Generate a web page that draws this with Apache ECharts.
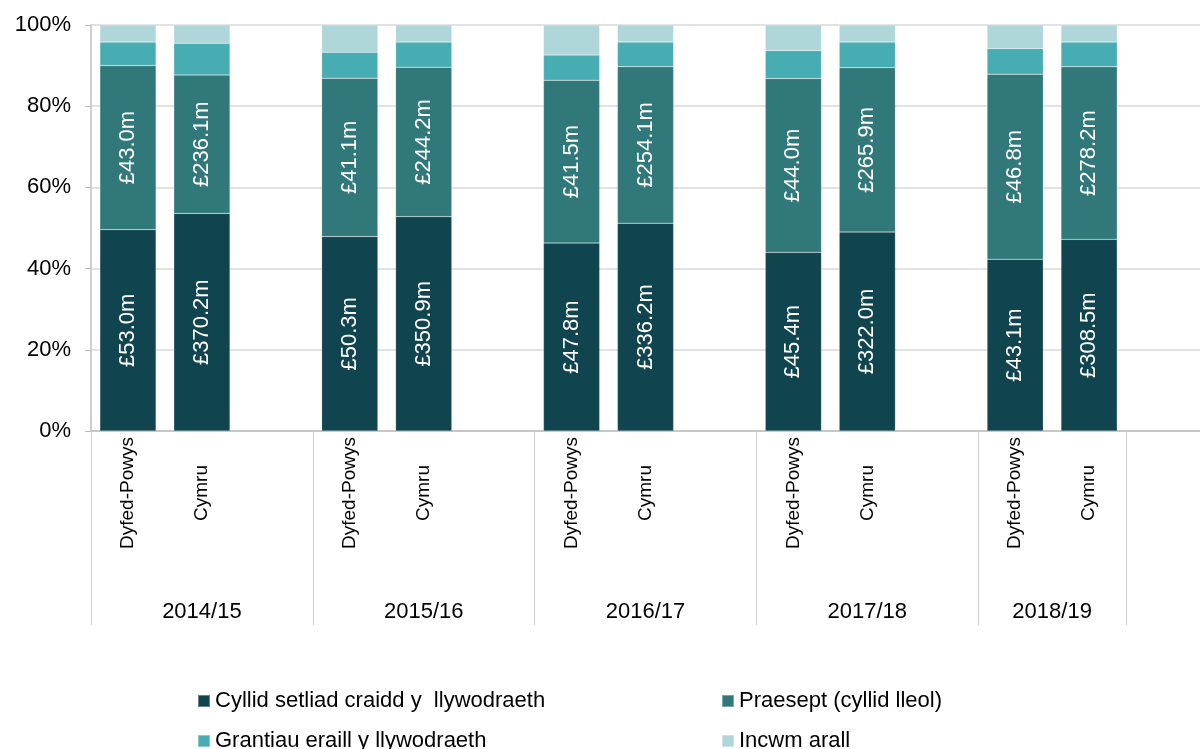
<!DOCTYPE html>
<html>
<head>
<meta charset="utf-8">
<script src="https://cdn.jsdelivr.net/npm/echarts@6/dist/echarts.min.js"></script>
<style>
  html, body, #main { margin: 0; padding: 0; width: 1200px; height: 749px; background: #fff; overflow: hidden; }
</style>
</head>
<body>
<div id="main"></div>
<script>
// years and the bars inside each year group
var years = ["2014/15", "2015/16", "2016/17", "2017/18", "2018/19"];
var areas = ["Dyfed-Powys", "Cymru"];
// slots per year group (two bars + blank gap; last group has no gap)
var groupSizes = [3, 3, 3, 3, 2];

// series names
var seriesNames = [
  "Cyllid setliad craidd y  llywodraeth",
  "Praesept (cyllid lleol)",
  "Grantiau eraill y llywodraeth",
  "Incwm arall"
];

// share of total income (%) per bar, order: DP 14/15, Cymru 14/15, DP 15/16 ...
var coreShare    = [49.6, 53.6, 47.9, 52.8, 46.3, 51.2, 44.0, 49.0, 42.3, 47.2];
var preceptShare = [40.4, 34.1, 39.0, 36.8, 40.1, 38.5, 42.8, 40.5, 45.6, 42.5];
var grantShare   = [5.8, 7.8, 6.4, 6.2, 6.2, 6.1, 6.9, 6.3, 6.3, 6.1];
var otherShare   = [4.2, 4.5, 6.7, 4.2, 7.4, 4.2, 6.3, 4.2, 5.8, 4.2];

// £m amounts shown as labels
var coreAmount    = [53.0, 370.2, 50.3, 350.9, 47.8, 336.2, 45.4, 322.0, 43.1, 308.5];
var preceptAmount = [43.0, 236.1, 41.1, 244.2, 41.5, 254.1, 44.0, 265.9, 46.8, 278.2];

var yTicks = [0, 20, 40, 60, 80, 100];

var colors = ["#104550", "#31787a", "#48adb2", "#afd6d9"];
var FONT = "Liberation Sans";

// category slots: each year = Dyfed-Powys, Cymru, blank
var slots = [];
years.forEach(function () {
  slots.push(areas[0], areas[1], "");
});

// spread per-bar values over the slots (blank slot -> "-")
function toSlots(arr) {
  var out = [];
  for (var i = 0; i < years.length; i++) {
    out.push(arr[i * 2], arr[i * 2 + 1], "-");
  }
  return out;
}

// group boundaries and centers for the year axis
var bounds = [0];
groupSizes.forEach(function (n) { bounds.push(bounds[bounds.length - 1] + n); });
var centers = [];
for (var g = 0; g < groupSizes.length; g++) centers.push((bounds[g] + bounds[g + 1]) / 2);

function fmt(v) { return "£" + v.toFixed(1) + "m"; }

var myChart = echarts.init(document.getElementById("main"));

var labelStyle = function (amounts) {
  return {
    show: true,
    position: "inside",
    rotate: 90,
    color: "#fff",
    fontFamily: FONT,
    fontSize: 22,
    formatter: function (p) {
      var bar = Math.floor(p.dataIndex / 3) * 2 + (p.dataIndex % 3);
      return fmt(amounts[bar]);
    }
  };
};

var shares = [coreShare, preceptShare, grantShare, otherShare];
var series = shares.map(function (arr, i) {
  var s = {
    name: seriesNames[i],
    type: "bar",
    stack: "total",
    barCategoryGap: "24%",
    xAxisIndex: 0,
    data: toSlots(arr),
    itemStyle: { color: colors[i], borderColor: "rgba(255,255,255,0.35)", borderWidth: 0.5 },
    emphasis: { disabled: true }
  };
  if (i === 0) s.label = labelStyle(coreAmount);
  if (i === 1) s.label = labelStyle(preceptAmount);
  return s;
});

var legendBase = {
  orient: "vertical",
  top: 690,
  height: 80,
  padding: 0,
  itemWidth: 12,
  itemHeight: 12,
  itemGap: 18,
  icon: "rect",
  textStyle: { fontSize: 22, color: "#000", fontFamily: FONT }
};

var option = {
  animation: false,
  color: colors,
  textStyle: { fontFamily: FONT },
  grid: { left: 91, top: 25, width: slots.length * 74.6, height: 406 },
  legend: [
    Object.assign({}, legendBase, { left: 197, data: [seriesNames[0], seriesNames[2]] }),
    Object.assign({}, legendBase, { left: 721, data: [seriesNames[1], seriesNames[3]] })
  ],
  xAxis: [
    {
      type: "category",
      data: slots,
      position: "bottom",
      axisLine: { lineStyle: { color: "#bfbfbf", width: 1.5 } },
      axisTick: { interval: 0, length: 117, lineStyle: { color: "#d0d0d0" } },
      axisLabel: {
        interval: 0,
        rotate: 90,
        align: "center",
        margin: 62,
        color: "#000",
        fontFamily: FONT,
        fontSize: 19
      }
    },
    {
      type: "value",
      min: 0,
      max: slots.length,
      position: "bottom",
      axisLine: { show: false },
      splitLine: { show: false },
      axisTick: { show: true, customValues: bounds, length: 194, lineStyle: { color: "#d0d0d0" } },
      axisLabel: {
        customValues: centers,
        margin: 170,
        color: "#000",
        fontFamily: FONT,
        fontSize: 22,
        formatter: function (v) {
          var k = centers.indexOf(v);
          return k >= 0 ? years[k] : "";
        }
      }
    }
  ],
  yAxis: {
    type: "value",
    min: yTicks[0],
    max: yTicks[yTicks.length - 1],
    interval: yTicks[1] - yTicks[0],
    axisLine: { show: true, lineStyle: { color: "#bfbfbf", width: 1.5 } },
    axisTick: { show: true, length: 6, lineStyle: { color: "#bfbfbf" } },
    splitLine: { lineStyle: { color: "#d9d9d9", width: 1.5 } },
    axisLabel: {
      margin: 20,
      color: "#000",
      fontFamily: FONT,
      fontSize: 22,
      formatter: "{value}%"
    }
  },
  series: series
};

myChart.setOption(option);
</script>
</body>
</html>
